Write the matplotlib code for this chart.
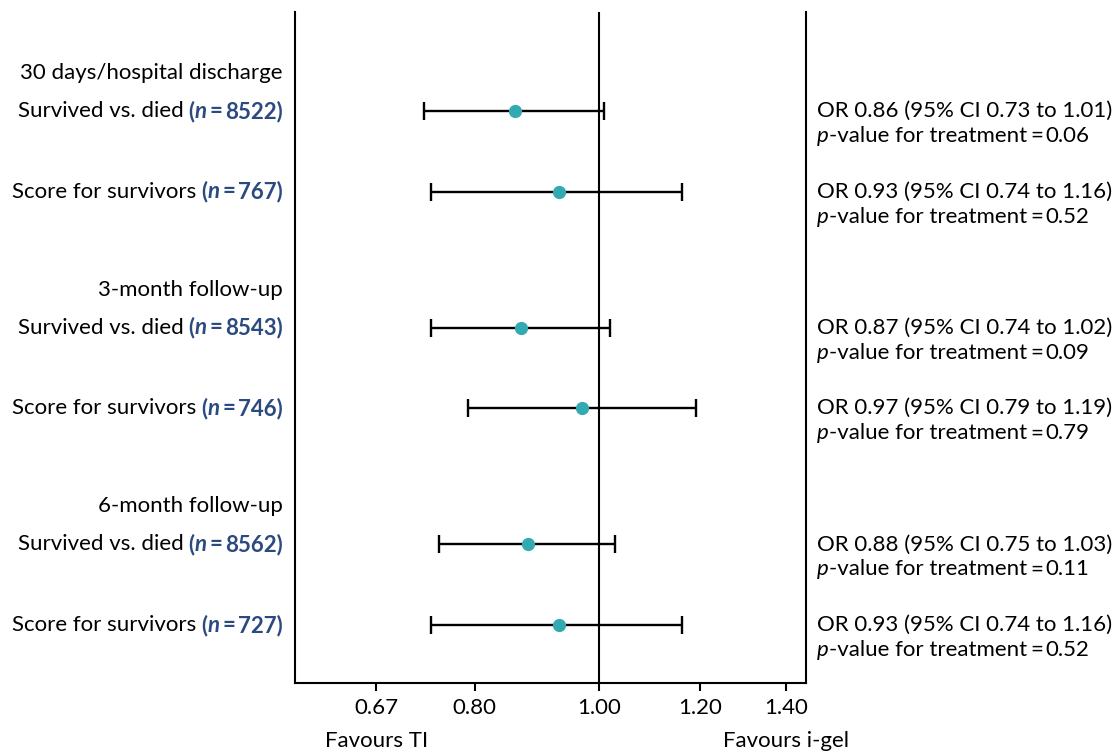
import matplotlib
matplotlib.use('Agg')
import matplotlib.pyplot as plt
import matplotlib.transforms as mtransforms
from matplotlib.ticker import NullLocator

plt.rcParams['font.family'] = ['Lato', 'DejaVu Sans']

# odds ratios with 95% CI, one entry per outcome row
groups = ['30 days/hospital discharge', '3-month follow-up', '6-month follow-up']
outcomes = ['Survived vs. died', 'Score for survivors'] * 3
n_obs = [8522, 767, 8543, 746, 8562, 727]
odds = [0.86, 0.93, 0.87, 0.97, 0.88, 0.93]
ci_low = [0.73, 0.74, 0.74, 0.79, 0.75, 0.74]
ci_high = [1.01, 1.16, 1.02, 1.19, 1.03, 1.16]
p_vals = ['0.06', '0.52', '0.09', '0.79', '0.11', '0.52']
tick_vals = [0.67, 0.80, 1.00, 1.20, 1.40]
tick_labels = ['0.67', '0.80', '1.00', '1.20', '1.40']

row_y = [0, 1, 2.69, 3.69, 5.38, 6.38]
group_y = [row_y[0] - 0.475, row_y[2] - 0.475, row_y[4] - 0.475]

FS = 16
DOT = '#33a9b1'
NBLUE = '#2b4a80'

fig = plt.figure(figsize=(11.17, 7.51), dpi=100)
ax = fig.add_axes([0.2641, 0.0905, 0.4575, 0.8935])
ax.set_xscale('log')
ax.set_xlim(0.579, 1.451)
ax.set_ylim(7.1, -1.23)

ax.errorbar(odds, row_y, xerr=[[o - l for o, l in zip(odds, ci_low)], [h - o for o, h in zip(odds, ci_high)]],
            fmt='none', ecolor='black', elinewidth=1.7, capsize=6.5, capthick=1.7, zorder=2)
ax.plot(odds, row_y, 'o', color=DOT, markersize=8.5, zorder=3)
ax.axvline(1.0, color='black', linewidth=1.5, zorder=1)

for side in ['left', 'right', 'bottom']:
    ax.spines[side].set_linewidth(1.5)
ax.spines['top'].set_visible(False)
ax.set_yticks([])
ax.xaxis.set_minor_locator(NullLocator())
ax.set_xticks(tick_vals)
ax.set_xticklabels(tick_labels, fontsize=FS)
ax.tick_params(axis='x', length=6, width=1.5, pad=5)

trans = mtransforms.blended_transform_factory(ax.transAxes, ax.transData)
renderer = fig.canvas.get_renderer()


def draw_segments(x, y, segments, ha='left', transform=trans):
    # lay out differently styled pieces of text one after the other
    texts, widths = [], []
    for s, kw in segments:
        gap = kw.pop('gap', 0)
        t = ax.text(x, y, s, transform=transform, va='center', ha='left', fontsize=FS, **kw)
        texts.append((t, gap))
        widths.append(t.get_window_extent(renderer).width + gap)
    start = -sum(widths) if ha == 'right' else 0.0
    for (t, gap), w in zip(texts, widths):
        t.set_transform(transform + mtransforms.ScaledTranslation((start + gap) / fig.dpi, 0, fig.dpi_scale_trans))
        start += w


lx = -0.0235
for g, gy in zip(groups, group_y):
    ax.text(lx, gy, g, transform=trans, ha='right', va='center', fontsize=FS)

nb = {'color': NBLUE, 'fontweight': 'bold'}
for i, y in enumerate(row_y):
    draw_segments(lx, y, [
        (outcomes[i], {}),
        ('(', dict(nb, gap=5)),
        ('n', dict(nb, fontstyle='italic')),
        ('=', dict(nb, gap=3)),
        (str(n_obs[i]) + ')', dict(nb, gap=3)),
    ], ha='right')
    rx = 1.0215
    ax.text(rx, y, f'OR {odds[i]:.2f} (95% CI {ci_low[i]:.2f} to {ci_high[i]:.2f})',
            transform=trans, ha='left', va='center', fontsize=FS)
    draw_segments(rx, y + 0.31, [
        ('p', {'fontstyle': 'italic'}),
        ('-value for treatment', {}),
        ('=', {'gap': 3}),
        (p_vals[i], {'gap': 3}),
    ])

bt = mtransforms.blended_transform_factory(ax.transData, ax.transAxes)
ax.text(0.67, -0.086, 'Favours TI', transform=bt, ha='center', va='center', fontsize=FS)
ax.text(1.40, -0.086, 'Favours i-gel', transform=bt, ha='center', va='center', fontsize=FS)

fig.savefig('out.png', dpi=100)
